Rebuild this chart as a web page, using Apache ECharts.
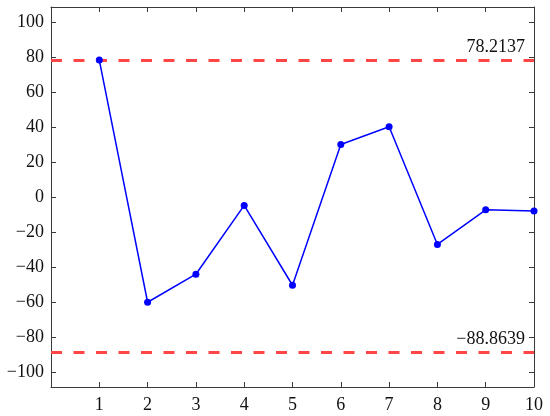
<!DOCTYPE html>
<html>
<head>
<meta charset="utf-8">
<script src="https://cdn.jsdelivr.net/npm/echarts@6/dist/echarts.min.js"></script>
<style>html,body{margin:0;padding:0;background:#fff}#c{width:550px;height:416px}</style>
</head>
<body>
<div id="c"></div>
<script>
const xValues = [1, 2, 3, 4, 5, 6, 7, 8, 9, 10];
const yValues = [78.2, -60.1, -44.1, -4.8, -50.4, 30.0, 40.1, -27.1, -7.3, -8.0];
const upperLimit = 78.2137;
const lowerLimit = -88.8639;
const xTicks = [1, 2, 3, 4, 5, 6, 7, 8, 9, 10];
const yTicks = [-100, -80, -60, -40, -20, 0, 20, 40, 60, 80, 100];

const FONT = 'Liberation Serif';
const AX = '#3a3a3a';
const chart = echarts.init(document.getElementById('c'), null, {renderer: 'canvas'});

function fmtNum(v) {
  const s = Math.abs(v).toFixed(4);
  return (v < 0 ? '\u2212' : '') + s;
}
function fmtTick(v) {
  return (v < 0 ? '\u2212' : '') + Math.abs(v);
}

const baseX = {
  type: 'value', min: 0, max: 10,
  axisLine: {show: true, onZero: false, lineStyle: {color: AX, width: 1}},
  splitLine: {show: false},
  axisTick: {show: true, inside: true, length: 5, customValues: xTicks, lineStyle: {color: AX}},
};
const baseY = {
  type: 'value', min: -108.5, max: 108.5,
  axisLine: {show: true, onZero: false, lineStyle: {color: AX, width: 1}},
  splitLine: {show: false},
  axisTick: {show: true, inside: true, length: 5, customValues: yTicks, lineStyle: {color: AX}},
};

chart.setOption({
  animation: false,
  grid: {left: 51, top: 7, right: 16, bottom: 29, containLabel: false},
  xAxis: [
    Object.assign({}, baseX, {position: 'bottom',
      axisLabel: {show: true, customValues: xTicks, margin: 9, color: '#111', fontFamily: FONT, fontSize: 18}}),
    Object.assign({}, baseX, {position: 'top', axisLabel: {show: false}})
  ],
  yAxis: [
    Object.assign({}, baseY, {position: 'left',
      axisLabel: {show: true, customValues: yTicks, margin: 7, color: '#111', fontFamily: FONT, fontSize: 18, formatter: fmtTick}}),
    Object.assign({}, baseY, {position: 'right', axisLabel: {show: false}})
  ],
  series: [{
    type: 'line',
    data: xValues.map((x, i) => [x, yValues[i]]),
    symbol: 'circle', symbolSize: 7,
    lineStyle: {color: '#0000ff', width: 1.5},
    itemStyle: {color: '#0000ff'},
    z: 3,
    markLine: {
      silent: true, symbol: 'none', precision: 4,
      lineStyle: {color: '#ff4545', width: 3.2, type: [11, 11.5], opacity: 1},
      label: {show: true, position: 'insideEndTop', distance: [9, 4], color: '#111',
        fontFamily: FONT, fontSize: 18, formatter: p => fmtNum(p.value)},
      data: [{yAxis: upperLimit}, {yAxis: lowerLimit}],
      z: 2
    }
  }]
});
</script>
</body>
</html>
